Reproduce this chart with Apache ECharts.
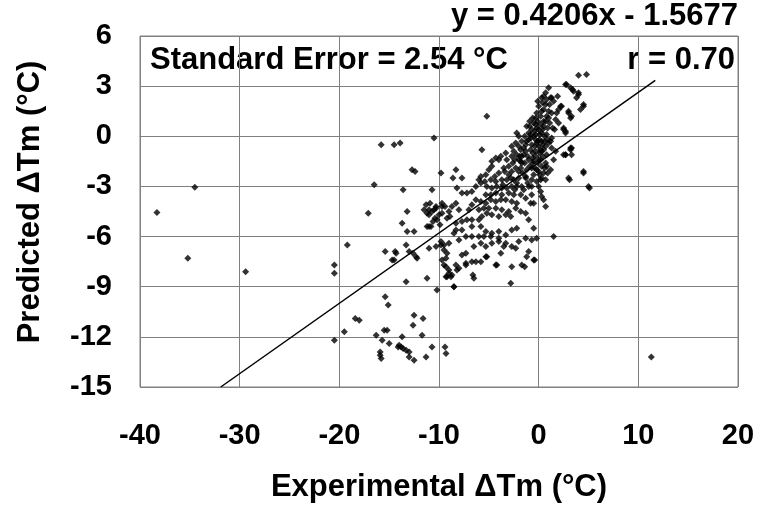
<!DOCTYPE html>
<html>
<head>
<meta charset="utf-8">
<script src="https://cdn.jsdelivr.net/npm/echarts@6/dist/echarts.min.js"></script>
<style>html,body{margin:0;padding:0;background:#fff}#c{width:764px;height:511px}</style>
</head>
<body>
<div id="c"></div>
<script>
// Axis ranges and tick settings
const xRange = [-40, 20, 10];
const yRange = [-15, 6, 3];

// Text annotations
const equationText = 'y = 0.4206x - 1.5677';
const stdErrText = 'Standard Error = 2.54 °C';
const rText = 'r = 0.70';
const xTitle = 'Experimental ΔTm (°C)';
const yTitle = 'Predicted ΔTm (°C)';

// Regression line endpoints [x, y]
const trendLine = [[-31.9, -15.0], [11.7, 3.35]];

// Far outliers
const farPoints = [[-38.3,-4.56],[-34.5,-3.05],[-35.2,-7.3],[-29.4,-8.1],[11.3,-13.2],[5.1,-3.1],[4.5,-2.2],[3.1,-2.6],[3.3,-0.7],[2.5,-1.1],[2.7,-1.1]];

// Left and lower groups
const leftPoints = [
[-16.5,-2.9],[-17.1,-4.6],[-19.2,-6.5],[-20.5,-7.7],[-20.5,-8.2],[-20.5,-12.2],
[-15.4,-6.9],[-14.4,-6.9],[-14.7,-7.4],[-15.4,-9.6],[-15.1,-10.1],[-18.4,-10.9],[-18.0,-11.0],[-19.5,-11.7],[-16.3,-11.9],[-15.5,-11.6],[-15.2,-11.6],[-15.7,-12.2],[-15.0,-12.4],[-15.9,-12.9],[-15.9,-13.1],[-14.1,-12.6],[-15.8,-13.3],
[-13.7,-12.0],[-12.5,-10.7],[-11.6,-10.9],[-12.6,-11.3],[-11.7,-11.9],[-14.0,-12.5],[-13.6,-12.7],[-13.3,-12.8],[-13.0,-12.9],[-13.8,-12.6],[-13.0,-13.2],[-12.5,-13.4],[-11.3,-13.2],[-10.7,-12.6],[-9.4,-12.6],[-9.3,-13.0],
[-13.3,-8.7],[-11.2,-8.5],[-10.2,-9.2],[-8.5,-9.0],
[-13.0,-6.9],[-12.6,-7.0],[-12.3,-7.2],[-12.2,-7.3],
[-15.8,-0.5],[-14.5,-0.5],[-13.9,-0.4],[-10.5,-0.1],[-5.2,1.2],[-5.7,-0.8],
[-12.7,-2.0],[-12.4,-2.1],[-9.8,-2.2],[-8.3,-2.0],[-8.6,-2.5],[-7.7,-2.5],[-13.6,-3.2],[-10.7,-3.2],
[-13.2,-4.5],[-13.7,-5.2],[-13.2,-5.7],[-12.5,-5.7],[-11.2,-5.4],[-10.8,-5.4],[-13.3,-6.5],
[-11.3,-4.1],[-11.2,-4.6],[-11.0,-4.4],[-10.5,-4.4],[-10.3,-4.2],[-9.7,-4.0],[-9.7,-4.6],[-9.0,-4.5],[-9.2,-4.9],[-10.2,-5.0],[-11.0,-5.4],[-10.4,-4.9],
[-9.8,-6.3],[-9.5,-6.8],[-9.3,-7.3],[-9.5,-7.7],[-9.0,-8.0],[-9.2,-8.4],[-8.8,-8.4],
[-10.9,-4.0],[-10.0,-4.7],[-9.4,-4.2],[-10.6,-5.1],[-11.5,-4.4],[-9.9,-5.3],[-8.9,-4.8]
];

// Upper part of main cluster
const upperPoints = [
[2.7,3.1],[3.2,2.9],[3.5,2.7],[4.0,2.5],[3.8,2.3],[1.3,2.3],[1.5,2.1],[2.3,1.8],[2.0,1.6],[3.0,1.5],[3.3,1.2],[4.5,1.8],
[1.0,1.5],[0.8,1.2],[1.3,1.4],[1.7,1.0],[2.0,0.8],[2.5,0.4],[2.7,0.2],[0.7,0.9],[0.2,0.7],[0.5,0.6],[0.0,0.4],[-0.7,0.4],
[-1.0,0.2],[-0.3,0.1],[0.3,0.2],[0.8,0.1],[1.3,-0.1],[1.0,-0.4],[0.3,-0.3],[-0.3,-0.2],[-1.0,-0.2],[-1.3,-0.5],[-0.7,-0.5],
[0.0,-0.6],[0.7,-0.6],[1.3,-0.7],[1.7,-0.9],[2.7,-1.1],[3.2,-0.8],[3.3,-1.1],[1.5,-1.4],[0.8,-1.1],[0.3,-0.9],[-0.3,-0.9],
[-0.8,-0.8],[-1.3,-0.9],[-1.8,-0.8],[-2.2,0.2],[-2.0,0.0],[-1.7,-0.3],[-2.3,-0.4],[-2.7,-0.6],[-2.2,-1.1],[-2.7,-1.2],
[4.0,3.65],[4.8,3.7],[2.8,3.1],[3.4,2.8],[4.0,2.6],[4.5,1.9],[4.2,1.6],[1.2,2.3],[2.2,1.8],[1.8,1.4],[3.0,1.4],[3.2,1.1],[2.5,0.5],[2.7,0.3],[3.2,-0.7],
[-0.5,0.8],[0.2,1.2],[-0.2,0.5],[0.5,1.6],[-0.8,-0.1],[0.1,-0.2],[-0.4,-0.6],[0.4,-1.2],[-1.5,-1.1],[-0.1,-1.6],[0.6,0.0],
[-0.6,1.1],[0.9,0.5],[1.1,0.8],[-1.2,0.6],[-0.3,-1.2],[0.3,-1.8],[-1.8,-1.5],[-2.5,-0.9],[0.0,1.8],[-0.9,-1.8],[0.4,2.0],
[1.6,0.4],[-1.6,-2.2],[-2.2,-2.8],[-1.1,-2.8],[0.9,-2.2],[1.2,-0.3],[0.7,2.6],[1.0,2.9],[0.5,2.4],[-0.2,1.4],[-0.9,0.9],
[-1.4,0.0],[-0.6,-1.3],[0.2,-1.4],[-1.9,-1.2],[-0.4,0.3],[0.6,-0.3],[-0.1,0.9],[0.1,-1.0],
[-0.5,0.0],[0.4,0.4],[0.1,0.1],[-0.2,-0.4],[0.5,-0.8],[-0.6,-1.0],[-1.1,-1.2],[-0.2,-2.0],[-0.5,-2.3],[0.6,-1.9],
[-1.4,-1.6],[-2.0,-2.1],[-1.3,-2.5],[-2.6,-1.6],[-3.0,-1.8],[-0.9,0.6],[0.3,1.5],[0.7,1.9],[1.0,1.1],[0.9,-0.2],
[0.2,-0.8],[-0.3,0.7],[-0.8,0.1],[0.5,0.9],[-1.5,-0.7],[-2.0,-0.6],[-0.6,-1.6],[0.1,-2.3],[0.4,-0.5],[-0.1,-0.3],
[1.4,0.5],[1.1,1.9],[0.8,2.2],[-0.3,1.1],[-1.2,-0.3],[-0.4,-1.9],[-1.7,-1.2],[-2.4,-1.4],[-3.4,-2.1],[-2.8,-2.5],
[0.2,-2.6],[-0.7,-3.0],[-1.5,-3.2],[-2.4,-3.2],[-3.6,-2.9],[-4.4,-2.4],[-5.4,-2.7],[0.3,2.3],[-0.1,2.1],[1.9,2.4]
];

// Lower part of main cluster
const lowerPoints = [
[-3.2,-1.4],[-3.8,-1.2],[-4.0,-1.4],[-3.3,-1.0],[-4.3,-1.3],[-4.7,-1.5],[-2.0,-1.4],[-1.7,-1.6],[-1.0,-1.4],[-0.5,-1.5],
[0.0,-1.4],[0.7,-1.6],[0.8,-1.8],[1.2,-2.0],[0.5,-2.2],[0.0,-2.1],[-0.7,-1.9],[-1.2,-2.0],[-1.8,-1.9],[-2.3,-1.9],
[-2.7,-2.1],[-3.0,-2.3],[-3.5,-1.9],[-4.0,-2.2],[-4.7,-1.8],[-5.0,-2.0],[-5.3,-2.3],[-5.8,-2.4],[-6.0,-2.6],[-4.8,-2.6],
[-4.3,-2.7],[-3.7,-2.6],[-3.2,-2.6],[-2.5,-2.6],[-2.0,-2.5],[-1.3,-2.4],[-0.7,-2.6],[-0.2,-2.7],[0.3,-2.5],[0.7,-2.6],
[4.5,-2.1],[3.0,-2.5],[5.0,-3.0],[0.0,-3.0],[0.2,-3.3],[0.3,-3.6],[0.5,-3.8],[0.7,-4.2],[-0.7,-3.5],[-1.0,-3.0],
[-1.7,-3.0],[-2.2,-3.0],[-2.7,-3.0],[-3.2,-3.1],[-3.7,-3.1],[-4.2,-3.0],[-4.7,-3.1],[-5.2,-3.0],[-5.8,-2.8],[-6.3,-3.0],
[-6.7,-3.3],[-7.2,-3.4],[-7.7,-3.4],[-8.2,-3.1],[-5.3,-3.5],[-4.8,-3.5],[-4.3,-3.4],[-3.7,-3.5],[-3.0,-3.4],[-2.5,-3.5],
[-1.8,-3.5],[-1.3,-3.7],[-0.8,-4.0],[-0.5,-4.0],[-2.2,-4.0],[-2.7,-3.9],[-3.3,-3.8],[-3.8,-3.8],[-4.3,-3.9],[-4.8,-3.8],
[-5.3,-4.0],[-5.8,-3.9],[-6.3,-3.8],[-6.7,-4.1],[-7.0,-4.4],[-6.0,-4.4],[-5.5,-4.3],[-5.0,-4.3],[-4.3,-4.3],[-3.7,-4.4],
[-3.0,-4.5],[-2.3,-4.3],[-1.8,-4.5],[-1.3,-4.6],[-1.0,-5.0],[-2.8,-4.8],[-3.3,-4.7],[-4.0,-4.8],[-4.7,-4.7],[-5.2,-4.6],
[-5.7,-4.8],[-6.0,-5.0],[-6.7,-5.0],[-7.2,-5.0],[-7.7,-5.1],[-8.3,-5.2],[-8.0,-4.4],[-8.3,-4.0],[-8.7,-4.2],[-9.7,-4.2],
[-10.3,-4.3],[-10.7,-4.5],[-11.0,-4.7],[-8.3,-5.6],[-7.7,-5.6],[-6.7,-5.4],[-5.8,-5.4],[-5.3,-5.7],[-4.7,-5.8],[-4.0,-5.7],
[-3.3,-5.9],[-2.7,-5.6],[-2.2,-5.5],[-0.5,-5.5],[1.5,-6.0],[-0.2,-6.1],[-0.7,-6.2],[-1.3,-6.1],[-2.0,-6.3],[-2.3,-6.7],
[-3.3,-6.4],[-4.0,-6.1],[-4.8,-6.0],[-5.5,-6.0],[-6.0,-6.0],[-6.7,-6.0],[-7.3,-6.0],[-8.0,-6.2],[-8.5,-5.8],[-9.0,-6.4],
[-9.5,-6.5],[-9.8,-6.5],[-10.3,-6.6],[-11.0,-6.7],[-14.3,-7.0],[-14.5,-7.4],[-9.2,-7.0],[-9.7,-7.4],
[-9.3,-7.8],[-9.0,-8.2],[-8.3,-7.7],[-7.7,-7.1],[-7.3,-7.0],[-6.5,-6.6],[-5.8,-6.4],[-5.3,-6.6],[-4.7,-6.4],[-4.0,-6.3],
[-3.5,-6.6],[-2.7,-6.6],[-1.2,-7.2],[-1.0,-6.9],[-3.8,-7.0],[-5.2,-7.2],[-5.8,-7.5],[-6.7,-7.5],[-7.3,-7.6],[-8.2,-8.0],
[-8.7,-8.3],[-9.3,-8.4],[-6.5,-8.5],[-5.3,-7.2],[-4.3,-7.7],[-2.7,-7.8],[-1.7,-7.7],[-0.5,-7.4],
[-0.4,-7.4],[-1.4,-7.8],[-2.8,-8.8],[-4.2,-7.7],[-6.6,-8.3],[-8.5,-9.0],[-6.3,-7.5],[-7.3,-7.7],[-8.0,-7.9]
];

const allPoints = farPoints.concat(leftPoints, upperPoints, lowerPoints);

const FONT = 'Liberation Sans';
const TEXT_FONT = 'bold 31px "Liberation Sans"';
const chart = echarts.init(document.getElementById('c'), null, {renderer: 'canvas'});
chart.setOption({
  animation: false,
  backgroundColor: '#fff',
  grid: {left: 140, right: 26, top: 36, bottom: 124, show: true, borderColor: '#808080', borderWidth: 1},
  xAxis: {
    type: 'value', min: xRange[0], max: xRange[1], interval: xRange[2],
    name: xTitle, nameLocation: 'middle', nameGap: 85,
    nameTextStyle: {fontFamily: FONT, fontWeight: 'bold', fontSize: 31, color: '#000'},
    axisLine: {show: true, lineStyle: {color: '#808080', width: 1}},
    axisTick: {show: false},
    axisLabel: {margin: 34, fontFamily: FONT, fontWeight: 'bold', fontSize: 29, color: '#000'},
    splitLine: {show: true, lineStyle: {color: '#808080', width: 1}}
  },
  yAxis: {
    type: 'value', min: yRange[0], max: yRange[1], interval: yRange[2],
    axisLine: {show: true, lineStyle: {color: '#808080', width: 1}},
    axisTick: {show: false},
    axisLabel: {margin: 28, fontFamily: FONT, fontWeight: 'bold', fontSize: 29, color: '#000'},
    splitLine: {show: true, lineStyle: {color: '#808080', width: 1}}
  },
  graphic: [
    {type: 'text', right: 26, top: 1, style: {text: equationText, font: TEXT_FONT, fill: '#000'}},
    {type: 'text', left: 150, top: 45, style: {text: stdErrText, font: TEXT_FONT, fill: '#000'}},
    {type: 'text', right: 29, top: 45, style: {text: rText, font: TEXT_FONT, fill: '#000'}},
    {type: 'text', x: 30, y: 202, rotation: Math.PI / 2,
     style: {text: yTitle, font: TEXT_FONT, fill: '#000', align: 'center', verticalAlign: 'middle'}}
  ],
  series: [
    {type: 'scatter', data: allPoints, symbol: 'diamond', symbolSize: 7, itemStyle: {color: '#000'}, z: 3},
    {type: 'line', data: trendLine, showSymbol: false, lineStyle: {color: '#000', width: 1.5}, z: 4}
  ]
});
</script>
</body>
</html>
